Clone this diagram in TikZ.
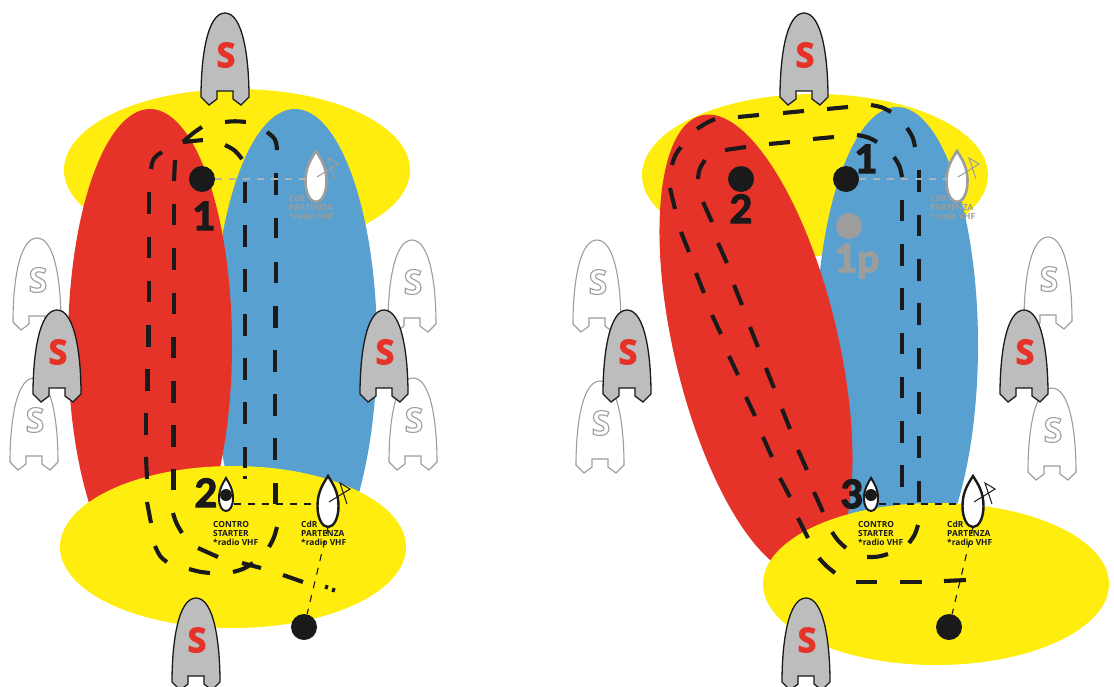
\documentclass[tikz,border=0pt]{standalone}
\usepackage{fontspec}
\setmainfont{Open Sans}
\newfontfamily\numfont{Lato}
\definecolor{yel}{HTML}{FFED10}
\definecolor{redz}{HTML}{E6332A}
\definecolor{bluez}{HTML}{57A0CF}
\definecolor{hullgray}{HTML}{BDBDBD}
\definecolor{ink}{HTML}{1A1A1A}
\definecolor{fade}{HTML}{9D9D9D}
\newcommand{\heavy}[3]{\special{pdf:code 2 Tr #2 w #1 RG}#3\special{pdf:code 0 Tr}}
\tikzset{
  route/.style={draw=ink,line width=4.1pt},
  thin dash/.style={draw=ink,line width=1.1pt,dash pattern=on 7pt off 7pt},
  fade dash/.style={draw=fade!80,line width=1.1pt,dash pattern=on 7pt off 7pt},
  mark dot/.style={circle,fill=ink,minimum size=26pt,inner sep=0pt},
  big num/.style={font=\numfont\bfseries\fontsize{39}{39}\selectfont,text=ink,inner sep=0pt,anchor=base},
  small label/.style={font=\bfseries\fontsize{8.4}{9.2}\selectfont,align=left,inner sep=0pt,anchor=north west},
}
\newcommand{\boatshape}{(-8,78) -- (-8,86) -- (-16,92) -- (-24,84) .. controls (-24,45) and (-18,0) .. (0,0) .. controls (18,0) and (24,45) .. (24,84) -- (16,92) -- (8,86) -- (8,78) -- cycle}
\newcommand{\sboat}[3]{\begin{scope}[shift={(#2,#3)}]
  \draw[fill=hullgray,draw=ink,line width=1.3pt] \boatshape;
  \node[text=redz,font=\bfseries\fontsize{34}{34}\selectfont,inner sep=0pt] (#1) at (1,42) {\heavy{0.9 0.2 0.165}{1}{S}};
\end{scope}}
\newcommand{\ghostboat}[3]{\begin{scope}[shift={(#2,#3)}]
  \draw[fill=white,draw=fade,line width=1.1pt] \boatshape;
  \node[font=\bfseries\fontsize{34}{34}\selectfont,inner sep=0pt] (#1) at (1,42) {\special{pdf:code 1 Tr 1.1 w 0.62 0.62 0.62 RG}S\special{pdf:code 0 Tr}};
\end{scope}}
\newcommand{\cdrboat}[5]{\begin{scope}[shift={(#2,#3)}]
  \draw[fill=white,draw=#4,line width=#5] (0,0) .. controls (-5,8) and (-10.5,16) .. (-10.5,30) .. controls (-10.5,42) and (-6,51) .. (0,51) .. controls (6,51) and (10.5,42) .. (10.5,30) .. controls (10.5,16) and (5,8) .. (0,0) -- cycle;
  \draw[draw=#4,line width=1pt] (1,26) -- (22,13) -- (12,7) -- (19,28);
  \coordinate (#1t) at (0,0); \coordinate (#1b) at (0,51); \coordinate (#1l) at (-10.5,28);
\end{scope}}
\newcommand{\starter}[3]{\begin{scope}[shift={(#2,#3)}]
  \draw[fill=white,draw=ink,line width=2pt] (0,0) .. controls (-3,5) and (-7,11) .. (-7,20) .. controls (-7,28) and (-4,33) .. (0,33) .. controls (4,33) and (7,28) .. (7,20) .. controls (7,11) and (3,5) .. (0,0) -- cycle;
  \node[circle,fill=ink,minimum size=12pt,inner sep=0pt] (#1) at (0,17) {};
  \coordinate (#1r) at (8,26);
\end{scope}}
\begin{document}
\begin{tikzpicture}[x=1pt,y=-1pt]
\clip (0,0) rectangle (1114,686);
% left panel areas
\fill[yel] (237,170) ellipse [x radius=173,y radius=81];
\fill[bluez] (295,345) ellipse [x radius=82,y radius=236];
\fill[redz] (150,345) ellipse [x radius=82,y radius=236];
\fill[yel] (233,547) ellipse [x radius=173,y radius=81];
% right panel areas
\fill[yel] (815,175) ellipse [x radius=173,y radius=81];
\fill[bluez] (897,345) ellipse [x radius=81,y radius=238];
\fill[redz,rotate around={13.3:(756,345)}] (756,345) ellipse [x radius=82,y radius=236];
\fill[yel] (936,584) ellipse [x radius=173,y radius=81];
% ghost boats
\ghostboat{ga}{37}{238}\ghostboat{gb}{412}{240}\ghostboat{gc}{34}{378}\ghostboat{gd}{413}{378}
\ghostboat{ge}{597}{240}\ghostboat{gf}{1048}{237}\ghostboat{gg}{600}{381}\ghostboat{gh}{1052}{388}
% boats
\sboat{sa}{225}{13}\sboat{sb}{57}{310}\sboat{sc}{384}{310}\sboat{sd}{196}{598}
\sboat{se}{804}{13}\sboat{sf}{627}{310}\sboat{sg}{1024}{310}\sboat{sh}{806}{598}
% dashes along the routes: vertical runs
\foreach \x/\a/\b in {
 149/192/214,149/237/258,149/281/302,148.5/325/347,147.5/369/391,146/413/435,
 174/204/225,174/248/270,174/293/314,173.5/337/358,173.5/381/403,173.5/425/447,173.5/469/490,
 245/182/203,245/225/247,245/269/292,245/314/336,245/358/380,245/402/424,245/447/468,245/476/479,
 276/173/195,276/218/238,276/262/283,275.5/306/328,275/350/372,275/394/416,275/438/460,275.5/483/504,
 902/200/221,902/244/266,902/288/310,902/333/354,902/377/398,902/421/443,902/465/487,
 919/170/192,919/215/236,919/259/281,919/303/325,919/348/369,919/392/414,919/436/458,919/481/502}
  \draw[route] (\x,\a) -- (\x,\b);
% dashes along the routes: straight runs
\foreach \p/\q in {
 {146,457}/{147,479},{147,502}/{151,523},{175,160}/{174,181},{183,142}/{203,140},{242,563}/{261,568},{283,575}/{303,582},{325,586.5}/{328,587.5},{332,589.5}/{335,590.5},
 {738,117}/{759,115},{783,113}/{804,111},{827,109}/{848,107},{769,144}/{790,142},{813,139}/{834,137},{725,150}/{746,147},
 {670,188}/{675,209},{681,232}/{689,252},{696,273}/{704,293},{712,315}/{721,334},{729,356}/{738,375},{746,397}/{755,416},{763,437}/{772,457},{780,478}/{790,497},{798,518}/{808,538},
 {703,202}/{712,222},{718,243}/{727,263},{734,285}/{742,305},{750,327}/{758,347},{766,368}/{774,388},{782,409}/{790,429},{798,450}/{807,470},{814,492}/{823,512},
 {856,582}/{877,582},{900,582}/{922,582},{944,581}/{966,580}}
  \draw[route] (\p) -- (\q);
% dashes along the routes: curved runs
\foreach \p/\c/\q in {
 {151,169}/{153,158}/{162,152},{183,142}/{193,133}/{202,127},{225,122}/{235,121}/{246,122},{267,132}/{276,139}/{277,150},
 {167,562}/{160,557}/{155,546},{225,145}/{235,150}/{242,159},{233,572}/{244,569}/{253,563},{189,569}/{200,572}/{210,573},
 {277,527}/{274,538}/{269,547},{182,533}/{176,523}/{173,513},{198,548}/{208,553}/{218,557},
 {871,105}/{882,107}/{891,112},{907,128}/{913,137}/{915,147},{672,165}/{675,155}/{681,147},{697,129}/{706,123}/{715,119},
 {857,135}/{868,137}/{877,142},{894,157}/{900,166}/{902,177},{698,179}/{699,169}/{705,160},{819,558}/{826,566}/{835,573},
 {832,532}/{838,541}/{846,548},{867,557}/{878,557}/{888,554},{909,543}/{915,535}/{918,525}}
  \draw[route] (\p) .. controls (\c) .. (\q);
% CdR gray
\cdrboat{ca}{316}{151}{fade}{2.6pt}
\cdrboat{cc}{957}{151}{fade}{2.6pt}
% CdR black
\cdrboat{cb}{328}{476}{ink}{2.4pt}
\cdrboat{cd}{973}{476}{ink}{2.4pt}
% starters
\starter{sta}{226}{478}
\starter{stb}{871}{478}
% marks
\node[mark dot] (d1) at (202,179) {};
\node[mark dot] (d2) at (304,627) {};
\node[mark dot] (d3) at (741,179) {};
\node[mark dot] (d4) at (846,179) {};
\node[mark dot] (d5) at (949,627) {};
\node[mark dot,fill=fade] (d6) at (849,226) {};
% thin dashed
\draw[fade dash] (d1) -- (cal);
\draw[fade dash] (d4) -- (ccl);
\draw[thin dash] (star) -- (cbl);
\draw[thin dash] (stbr) -- (cdl);
\draw[thin dash] (cbb) -- (d2);
\draw[thin dash] (cdb) -- (d5);
% numbers
\node[big num] (n1) at (204,230) {\heavy{0.1 0.1 0.1}{1.4}{1}};
\node[big num] (n2) at (206,507) {\heavy{0.1 0.1 0.1}{1.4}{2}};
\node[big num] (n3) at (866,173) {\heavy{0.1 0.1 0.1}{1.4}{1}};
\node[big num] (n4) at (741,223) {\heavy{0.1 0.1 0.1}{1.4}{2}};
\node[big num] (n5) at (852,508) {\heavy{0.1 0.1 0.1}{1.4}{3}};
\node[big num,text=fade] (n6) at (857,272) {\heavy{0.62 0.62 0.62}{1.4}{1p}};
% labels
\node[small label,text=fade] (la) at (289,195) {CdR\\PARTENZA\\*radio VHF};
\node[small label,text=fade] (lb) at (930,195) {CdR\\PARTENZA\\*radio VHF};
\node[small label,text=ink] (lc) at (301,521) {CdR\\PARTENZA\\*radio VHF};
\node[small label,text=ink] (ld) at (947,521) {CdR\\PARTENZA\\*radio VHF};
\node[small label,text=ink] (le) at (213,521) {CONTRO\\STARTER\\*radio VHF};
\node[small label,text=ink] (lf) at (858,521) {CONTRO\\STARTER\\*radio VHF};
\end{tikzpicture}
\end{document}
